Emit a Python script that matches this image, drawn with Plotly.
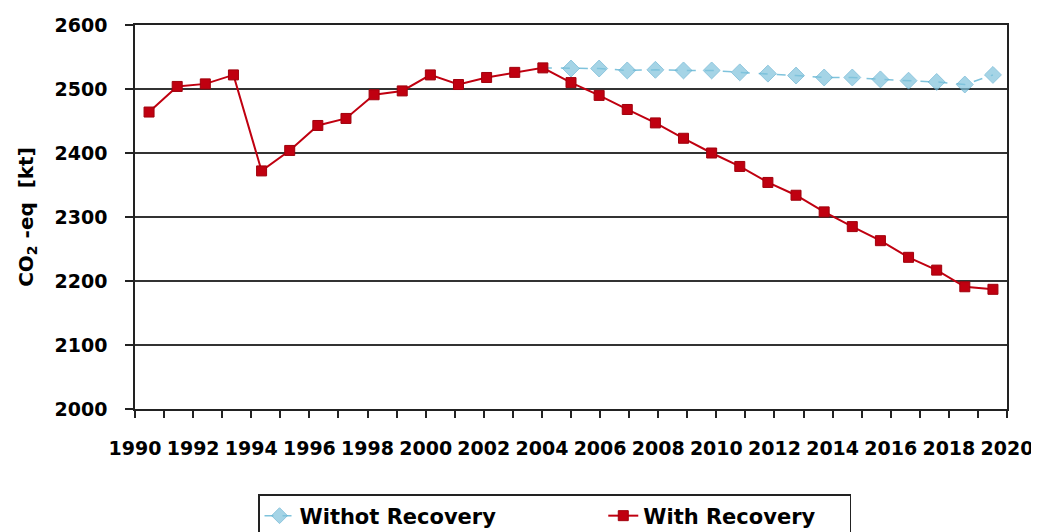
import plotly.graph_objects as go

years = list(range(1990, 2021))
with_recovery = [2464, 2504, 2508, 2522, 2372, 2404, 2443, 2454, 2491, 2497,
                 2522, 2507, 2518, 2526, 2533, 2510, 2490, 2468, 2447, 2423,
                 2400, 2379, 2354, 2334, 2308, 2285, 2263, 2237, 2217, 2191, 2187]
without_years = list(range(2004, 2021))
without_recovery = [2533, 2532, 2532, 2529, 2530, 2529, 2529, 2526, 2524, 2521,
                    2518, 2518, 2515, 2513, 2511, 2507, 2522]

axis_years = list(range(1990, 2021))
axis_labels = [str(y) if y % 2 == 0 else "" for y in axis_years]
y_ticks = [2000, 2100, 2200, 2300, 2400, 2500, 2600]

# Category-style placement: 31 categories over [1989.5, 2020.5];
# value-axis labels 1990..2020 span the same width
n_cat = len(years)
span = axis_years[-1] - axis_years[0]
tick_pos = [years[0] - 0.5 + (t - axis_years[0]) * n_cat / span for t in axis_years]

FONT = "DejaVu Sans"
NB = "&nbsp;"

# first point of the "without" series sits under the red 2004 marker
without_sizes = [0] + [13] * (len(without_years) - 1)

fig = go.Figure()
fig.add_trace(go.Scatter(
    x=without_years, y=without_recovery, name="Withot Recovery" + NB * 14,
    mode="lines+markers",
    line=dict(color="#7FC3DC", width=1.5, dash="dash"),
    marker=dict(symbol="diamond", size=without_sizes, color="#7FC3DC",
                line=dict(color="#5FAED0", width=1)),
))
fig.add_trace(go.Scatter(
    x=years, y=with_recovery, name="With Recovery" + NB * 4,
    mode="lines+markers",
    line=dict(color="#C00010", width=2),
    marker=dict(symbol="square", size=10, color="#C00010",
                line=dict(color="#A0000C", width=1)),
))

# page body adds an 8px offset, so the figure is 8px smaller
fig.update_layout(
    width=1031, height=524,
    margin=dict(l=127, r=32, t=17, b=123, autoexpand=False),
    paper_bgcolor="white", plot_bgcolor="white",
    font=dict(family=FONT, color="black"),
    legend=dict(
        orientation="h", xref="container", yref="container",
        x=0.2425, y=0.0725, xanchor="left", yanchor="top",
        bordercolor="#222", borderwidth=1.5, bgcolor="white",
        font=dict(family=FONT, size=21, color="black", weight="bold"),
        traceorder="normal",
    ),
)
fig.update_xaxes(
    range=[years[0] - 0.5, years[-1] + 0.5], automargin=False,
    tickmode="array", tickvals=tick_pos, ticktext=axis_labels,
    ticks="outside", ticklen=7, tickwidth=1.5, tickcolor="#222",
    showline=True, linecolor="#222", linewidth=1.5, mirror=True,
    showgrid=False, zeroline=False,
    tickfont=dict(family=FONT, size=19, color="black", weight="bold"),
    ticklabelstandoff=14,
)
fig.update_yaxes(
    range=[2000, 2600], tickmode="array", tickvals=y_ticks, automargin=False,
    ticks="outside", ticklen=8, tickwidth=1.5, tickcolor="#222",
    showline=True, linecolor="#222", linewidth=1.5, mirror=True,
    showgrid=True, gridcolor="#333", gridwidth=1.5, zeroline=False,
    tickfont=dict(family=FONT, size=19, color="black", weight="bold"),
    ticklabelstandoff=14,
    title=dict(text="CO<sub>2</sub> -eq&nbsp;&nbsp;[kt]",
               font=dict(family=FONT, size=20, color="black", weight="bold"),
               standoff=16),
)

fig.write_html("out.html")
